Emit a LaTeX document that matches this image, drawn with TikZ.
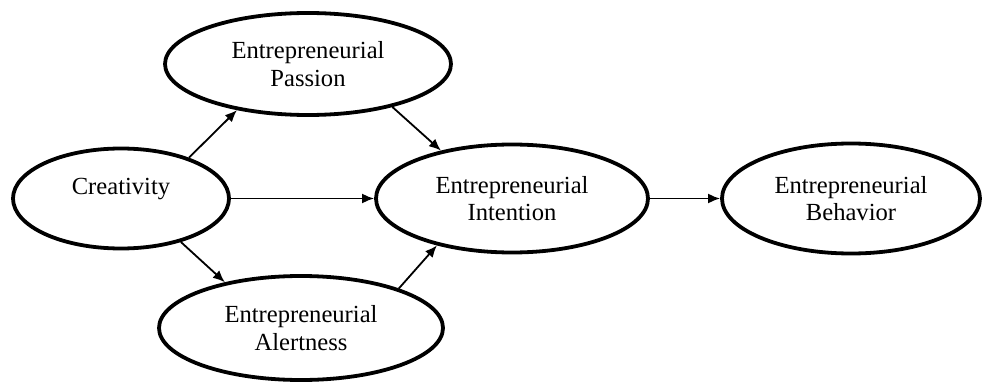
\documentclass[tikz,border=0pt]{standalone}
\usepackage{fontspec}
\setmainfont{Liberation Serif}
\usetikzlibrary{shapes.geometric, arrows.meta}

\begin{document}
\begin{tikzpicture}[
            x=0.5pt, y=-0.5pt,
            construto/.style={shape=ellipse, draw=black, line width=1.9pt, inner sep=0pt,
                align=center, font=\fontsize{12.3}{13.8}\selectfont},
            seta/.style={line width=0.9pt, -{Latex[length=6pt, width=5pt]}},
        ]
        \useasboundingbox (0, 0) rectangle (985, 385);

        \node[construto, minimum width=108pt, minimum height=50pt, text depth=12.5pt] (c) at (121, 198.5) {Creativity};
        \node[construto, minimum width=143pt, minimum height=51pt] (p) at (308, 64) {Entrepreneurial\\Passion};
        \node[construto, minimum width=136pt, minimum height=54pt] (i) at (512, 198.5) {Entrepreneurial\\Intention};
        \node[construto, minimum width=129pt, minimum height=55pt] (b) at (851, 198.5) {Entrepreneurial\\Behavior};
        \node[construto, minimum width=142pt, minimum height=52pt] (a) at (301, 328) {Entrepreneurial\\Alertness};

        \draw[seta] (c.31) -- (p.213);
        \draw[seta] (c.east) -- (i.west);
        \draw[seta] (c.324) -- (a.149);
        \draw[seta] (p.333) -- (i.146);
        \draw[seta] (a.22) -- (i.212);
        \draw[seta] (i.east) -- (b.west);

    \end{tikzpicture}
\end{document}
